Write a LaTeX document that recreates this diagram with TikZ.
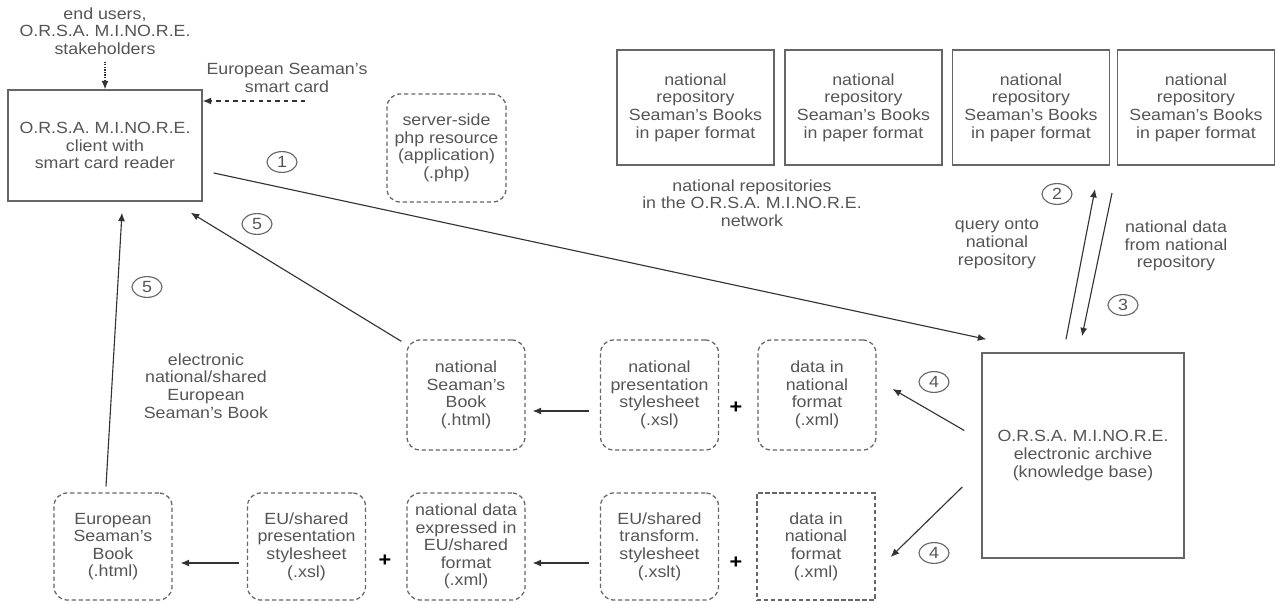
\documentclass[tikz,border=0pt]{standalone}
\usepackage{fontspec}
\setmainfont{Liberation Sans}[FakeStretch=1.1]
\usetikzlibrary{arrows.meta,shapes.geometric}
\definecolor{txtgray}{HTML}{555555}
\definecolor{boxgray}{HTML}{666666}
\tikzset{
  lbl/.style={align=center, text=txtgray, inner sep=0pt, font=\fontsize{11.5}{12.5}\selectfont},
  solidbox/.style={lbl, draw=boxgray, line width=1pt},
  dashbox/.style={lbl, draw=boxgray, line width=0.9pt, dash pattern=on 3pt off 2pt, rounded corners=0.33cm},
  stepnum/.style={lbl, ellipse, draw=boxgray, line width=0.8pt, minimum width=0.75cm, minimum height=0.52cm},
  plus/.style={inner sep=0pt, font=\fontsize{14}{14}\selectfont\bfseries},
  flow/.style={line width=0.8pt, draw=black!80, -{Latex[length=6pt,width=5pt]}}
}

\begin{document}
\begin{tikzpicture}[x=0.025cm, y=-0.025cm]
    \path (0,0) rectangle (1276,603);
    \node[lbl] (users) at (105,31) {end users,\\O.R.S.A. M.I.NO.R.E.\\stakeholders};
    \node[solidbox, minimum width=4.85cm, minimum height=2.775cm] (client) at (105,145.5) {O.R.S.A. M.I.NO.R.E.\\client with\\smart card reader};
    \node[lbl] (card) at (287,78) {European Seaman's\\smart card};
    \node[dashbox, minimum width=2.975cm, minimum height=2.7cm] (server) at (446.5,148) {server-side\\php resource\\(application)\\(.php)};
    \node[solidbox, minimum width=3.925cm, minimum height=2.875cm] (repo1) at (695.5,107.5) {national\\repository\\Seaman's Books\\in paper format};
    \node[solidbox, minimum width=3.925cm, minimum height=2.875cm] (repo2) at (863.5,107.5) {national\\repository\\Seaman's Books\\in paper format};
    \node[solidbox, minimum width=3.925cm, minimum height=2.875cm] (repo3) at (1031,107.5) {national\\repository\\Seaman's Books\\in paper format};
    \node[solidbox, minimum width=3.925cm, minimum height=2.875cm] (repo4) at (1196,107.5) {national\\repository\\Seaman's Books\\in paper format};
    \node[lbl] (network) at (752,203) {national repositories\\in the O.R.S.A. M.I.NO.R.E.\\network};
    \node[lbl] (query) at (997,244) {query onto\\national\\repository};
    \node[lbl] (natdata) at (1176,246) {national data\\from national\\repository};
    \node[solidbox, minimum width=5.05cm, minimum height=5.125cm] (archive) at (1083,455.5) {O.R.S.A. M.I.NO.R.E.\\electronic archive\\(knowledge base)};
    \node[dashbox, minimum width=2.95cm, minimum height=2.75cm] (natbook) at (466,395) {national\\Seaman's\\Book\\(.html)};
    \node[dashbox, minimum width=2.95cm, minimum height=2.75cm] (natxsl) at (659.5,395) {national\\presentation\\stylesheet\\(.xsl)};
    \node[dashbox, minimum width=2.95cm, minimum height=2.75cm] (natxml) at (817,395) {data in\\national\\format\\(.xml)};
    \node[plus] (plusa) at (736,408) {+};
    \node[lbl] (ebook) at (206,386) {electronic\\national/shared\\European\\Seaman's Book};
    \node[dashbox, minimum width=2.95cm, minimum height=2.675cm] (eubook) at (113,546.5) {European\\Seaman's\\Book\\(.html)};
    \node[dashbox, minimum width=2.95cm, minimum height=2.675cm] (euxsl) at (306.5,546.5) {EU/shared\\presentation\\stylesheet\\(.xsl)};
    \node[dashbox, minimum width=2.95cm, minimum height=2.675cm] (eudata) at (466,546.5) {national data\\expressed in\\EU/shared\\format\\(.xml)};
    \node[dashbox, minimum width=2.95cm, minimum height=2.675cm] (euxslt) at (659.5,546.5) {EU/shared\\transform.\\stylesheet\\(.xslt)};
    \node[dashbox, rounded corners=0pt, minimum width=2.95cm, minimum height=2.675cm] (xmlsq) at (816,546.5) {data in\\national\\format\\(.xml)};
    \node[plus] (plusb) at (385,561) {+};
    \node[plus] (plusc) at (736,563) {+};
    \node[stepnum] (n1) at (282,162) {1};
    \node[stepnum] (n5a) at (257,224) {5};
    \node[stepnum] (n5b) at (147,287) {5};
    \node[stepnum] (n2) at (1057,194) {2};
    \node[stepnum] (n3) at (1123,305) {3};
    \node[stepnum] (n4a) at (934,382) {4};
    \node[stepnum] (n4b) at (934,553) {4};
    \coordinate (cardtail) at (305,101);
    \coordinate (queryhead) at (1095,189);
    \coordinate (datatail) at (1112,193);
    \draw[flow, densely dotted, shorten <=5pt] (users) -- (client);
    \draw[flow, dashed] (cardtail) -- (cardtail -| client.east);
    \draw[flow] ([shift={(11,27.5)}]client.east) -- ([shift={(5,-13)}]archive.north west);
    \draw[flow] ([shift={(-17,-13)}]archive.north) -- (queryhead);
    \draw[flow] (datatail) -- ([shift={(-1,-16)}]archive.north);
    \draw[flow] ([shift={(-17,-25)}]archive.west) -- ([shift={(16,-6)}]natxml.east);
    \draw[flow] ([shift={(-19,31.5)}]archive.west) -- ([shift={(15,10.5)}]xmlsq.east);
    \draw[flow] ([shift={(-11,16)}]natxsl.west) -- ([shift={(7,16)}]natbook.east);
    \draw[flow] ([shift={(-11,16.5)}]euxslt.west) -- ([shift={(7,16.5)}]eudata.east);
    \draw[flow] ([shift={(-8,16.5)}]euxsl.west) -- ([shift={(8,16.5)}]eubook.east);
    \draw[flow] ([shift={(-5,2)}]natbook.north west) -- ([shift={(-12,11)}]client.south east);
    \draw[flow] ([shift={(-7,-6)}]eubook.north) -- ([shift={(17,11)}]client.south);
\end{tikzpicture}
\end{document}
